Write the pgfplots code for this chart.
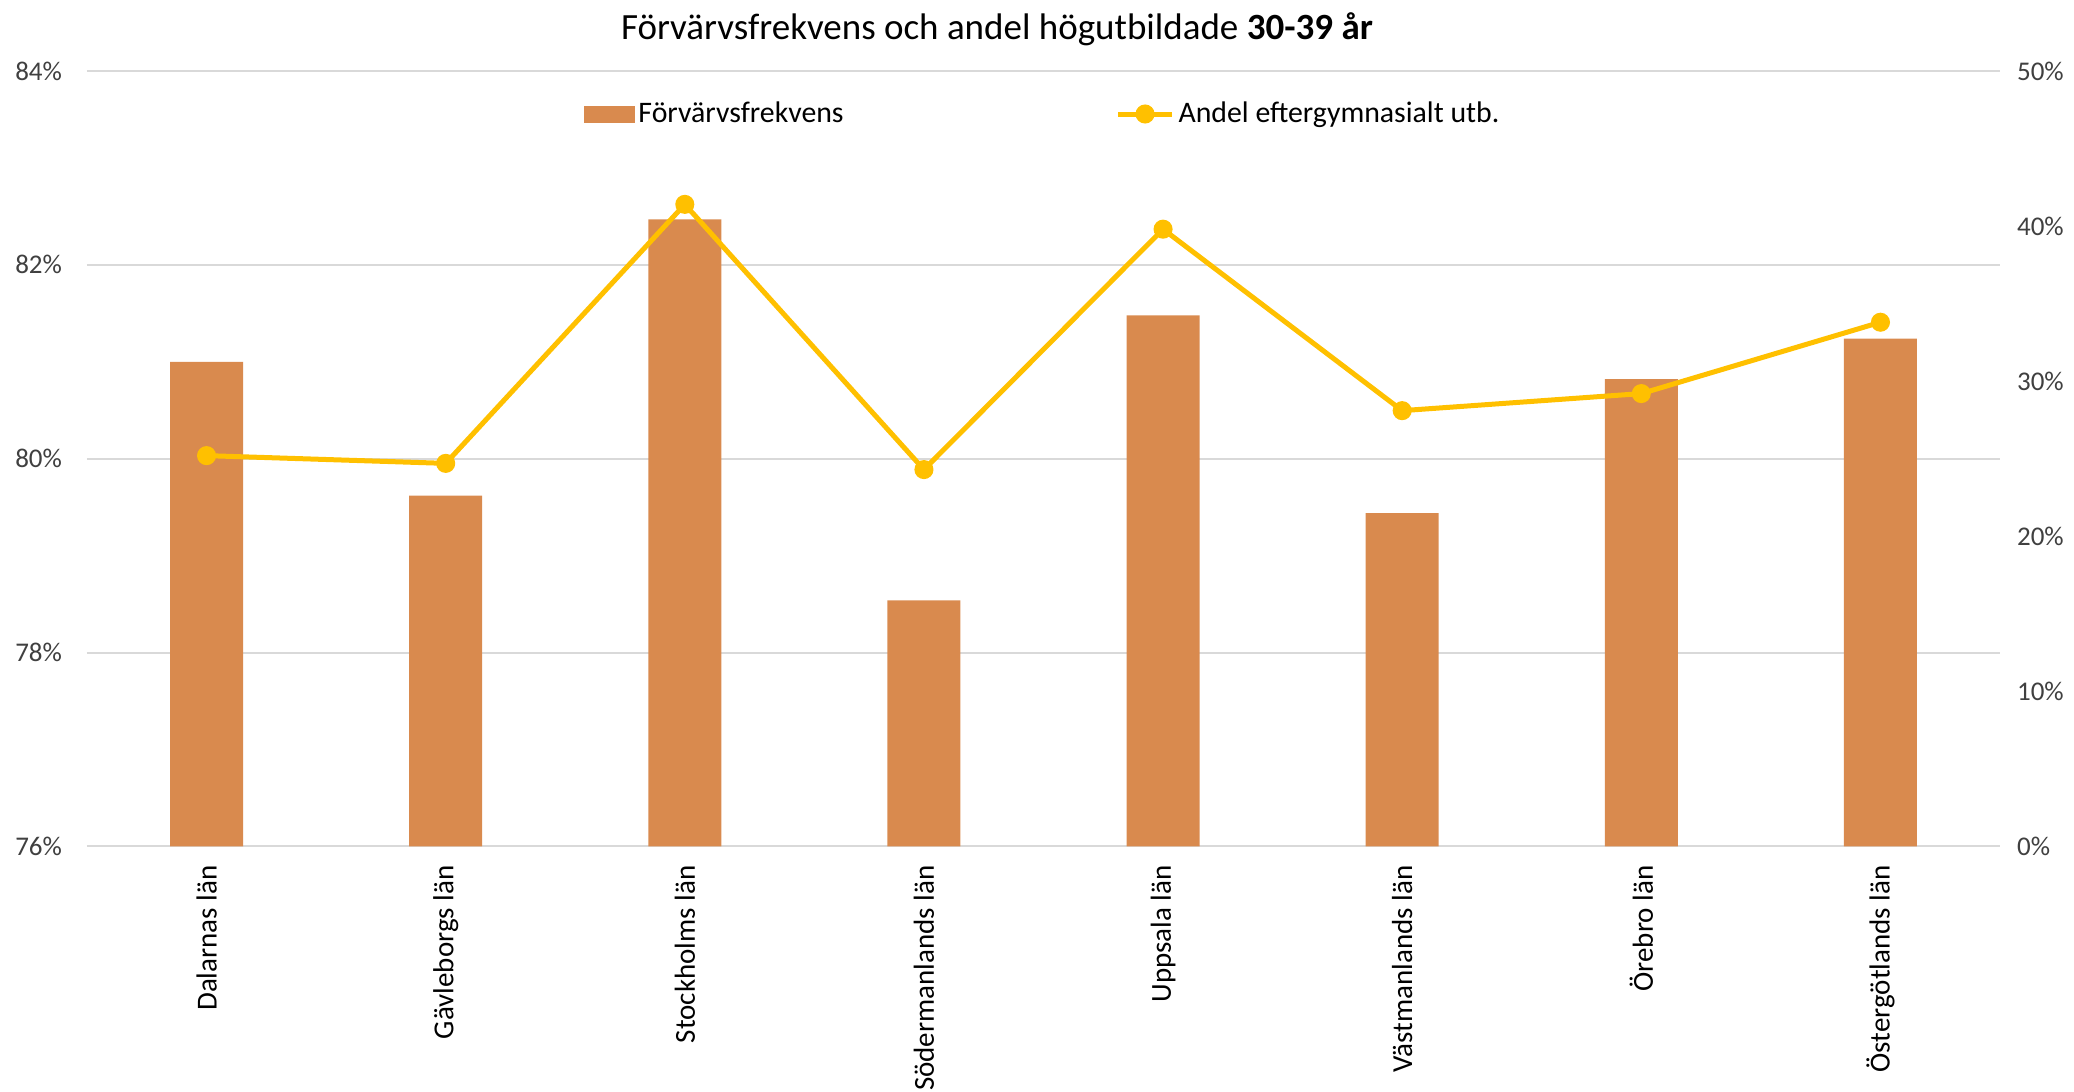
\documentclass[border=0pt]{standalone}
\usepackage{pgfplots}
\pgfplotsset{compat=1.18}
\usepackage{fontspec}
\setmainfont{Carlito}

\definecolor{barc}{HTML}{D98A4E}
\definecolor{linec}{HTML}{FFC000}
\definecolor{gridc}{HTML}{D9D9D9}
\definecolor{tickc}{HTML}{404040}

\pgfplotsset{
  base/.style={
    scale only axis,
    width=956.5pt, height=387.75pt,
    xmin=-0.5, xmax=7.5,
    axis line style={draw=none},
    tick style={draw=none},
    major tick length=0pt,
  },
}

\begin{document}
\begin{tikzpicture}
  % bars, left axis
  \begin{axis}[
      base,
      ymin=76, ymax=84,
      ytick={76,78,80,82,84},
      yticklabels={76\%,78\%,80\%,82\%,84\%},
      yticklabel style={font=\fontsize{13.5}{15}\selectfont, color=tickc, xshift=-9pt},
      ymajorgrids,
      grid style={draw=gridc, line width=1pt},
      xtick={0,...,7},
      xticklabels={Dalarnas län, Gävleborgs län, Stockholms län, Södermanlands län,
        Uppsala län, Västmanlands län, Örebro län, Östergötlands län},
      xticklabel style={rotate=90, anchor=east, font=\fontsize{14.5}{16}\selectfont, xshift=-6pt},
    ]
    \addplot[ybar, bar width=36.5pt, fill=barc, draw=none] coordinates {
      (0, 81.00)
      (1, 79.62)
      (2, 82.47)
      (3, 78.54)
      (4, 81.48)
      (5, 79.44)
      (6, 80.82)
      (7, 81.24)
    };
    \coordinate (bl) at (rel axis cs:0,0);
    \coordinate (tr) at (rel axis cs:1,1);
    \coordinate (ttl) at (rel axis cs:0.4757,1);
  \end{axis}

  % line, right axis
  \begin{axis}[
      base,
      ymin=0, ymax=50,
      axis y line*=right,
      axis x line=none,
      ytick={0,10,...,50},
      yticklabels={0\%,10\%,20\%,30\%,40\%,50\%},
      yticklabel style={font=\fontsize{13.5}{15}\selectfont, color=tickc, xshift=5pt},
      legend style={
        at={(0.5,0.9445)}, anchor=center, draw=none, fill=none,
        legend columns=2,
        font=\fontsize{14.9}{16}\selectfont,
        /tikz/every even column/.append style={column sep=134pt},
      },
    ]
    \addlegendimage{legend image code/.code={\fill[barc] (0pt,-4pt) rectangle (25pt,4pt);}}
    \addlegendentry{Förvärvsfrekvens}
    \addplot[color=linec, line width=2.5pt, mark=*, mark size=3.5pt,
      legend image code/.code={
        \draw[linec, line width=2.5pt] (0pt,0pt) -- (27pt,0pt);
        \fill[linec] (13.5pt,0pt) circle (3.5pt);}
    ] coordinates {
      (0, 25.2)
      (1, 24.7)
      (2, 41.4)
      (3, 24.3)
      (4, 39.8)
      (5, 28.1)
      (6, 29.2)
      (7, 33.8)
    };
    \addlegendentry{Andel eftergymnasialt utb.}
  \end{axis}

  \node[font=\fontsize{18.5}{22}\selectfont] at ([yshift=21pt]ttl)
    {Förvärvsfrekvens och andel högutbildade \textbf{30-39 år}};

  \pgfresetboundingbox
  \useasboundingbox ([xshift=-43.5pt,yshift=-122.75pt]bl) rectangle ([xshift=37pt,yshift=35.5pt]tr);
\end{tikzpicture}
\end{document}
